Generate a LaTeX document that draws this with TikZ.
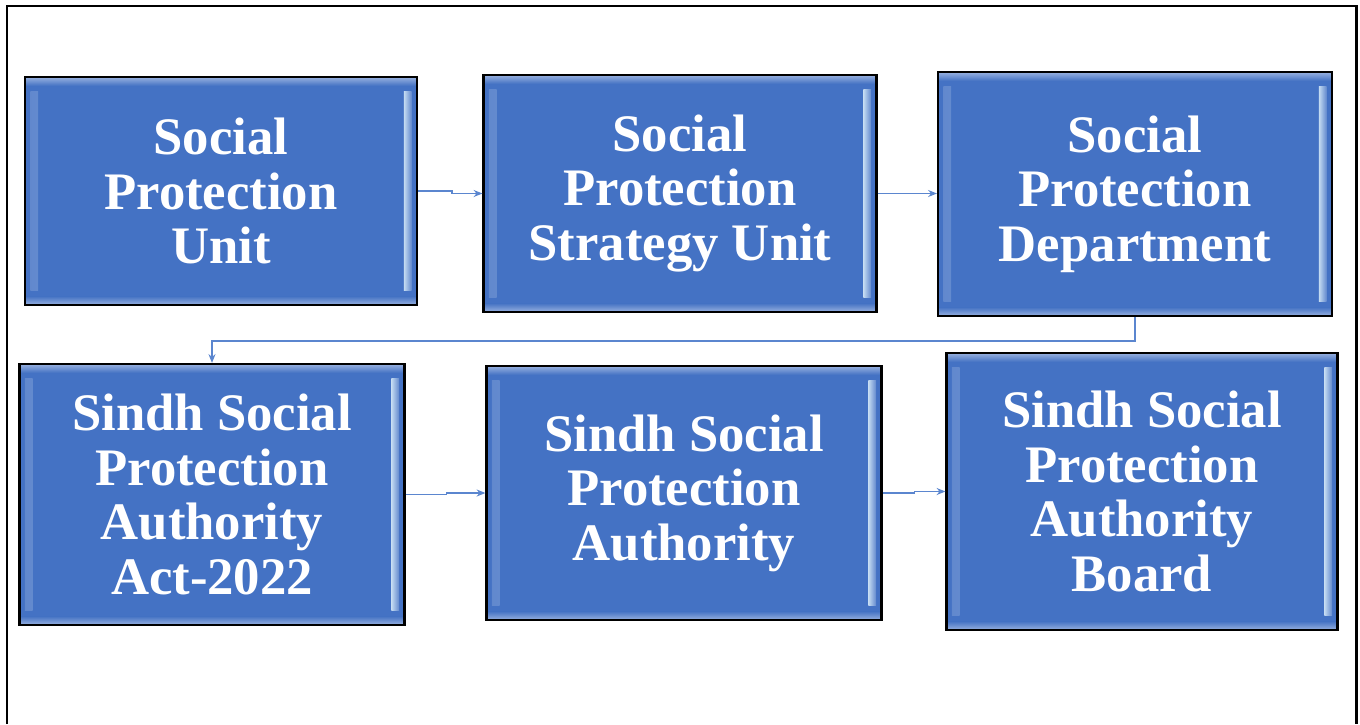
\documentclass[tikz,border=0pt]{standalone}
\usepackage{fontspec}
\setmainfont{Liberation Serif}
\usetikzlibrary{arrows.meta}

\definecolor{boxblue}{HTML}{4472C4}
\definecolor{bevel}{HTML}{C5DCF2}
\definecolor{flowblue}{HTML}{5B86CF}

\tikzset{
    stage/.style = {draw = black, line width = 1.3pt, fill = boxblue, text = white,
        align = center, inner sep = 0pt,
        font = \bfseries\fontsize{30}{31}\selectfont,
        path picture = {
            \shade[left color = boxblue!85!white, right color = bevel]
                ([xshift = 3pt, yshift = -8pt]path picture bounding box.north west)
                rectangle ([xshift = 7.5pt, yshift = 8pt]path picture bounding box.south west);
            \shade[left color = bevel, right color = boxblue!85!white]
                ([xshift = -7.5pt, yshift = -8pt]path picture bounding box.north east)
                rectangle ([xshift = -3pt, yshift = 8pt]path picture bounding box.south east);
            \shade[top color = boxblue!55!white, bottom color = boxblue]
                (path picture bounding box.north west)
                rectangle ([yshift = -5pt]path picture bounding box.north east);
            \shade[top color = boxblue, bottom color = boxblue!55!white]
                ([yshift = 5pt]path picture bounding box.south west)
                rectangle (path picture bounding box.south east);
        }},
    flow/.style = {draw = flowblue, line width = 0.8pt,
        -{Stealth[length = 5pt, width = 4pt, fill = boxblue]}},
}

\begin{document}
\begin{tikzpicture}[x = 0.02cm, y = -0.02cm]

    \useasboundingbox (0, 0) rectangle (1360, 724);

    % frame, open at the bottom
    \draw[line width = 1.7pt] (7, 724) -- (7, 6) -- (1356, 6) -- (1356, 724);

    % first row
    \node[stage, minimum width = 7.84cm, minimum height = 4.56cm] (unit) at (221, 191)
        {Social\\Protection\\Unit};
    \node[stage, minimum width = 7.86cm, minimum height = 4.74cm] (strategy) at (680, 193.5)
        {Social\\Protection\\Strategy Unit};
    \node[stage, minimum width = 7.88cm, minimum height = 4.88cm] (department) at (1135, 194)
        {Social\\Protection\\Department};

    % second row
    \node[stage, minimum width = 7.70cm, minimum height = 5.22cm] (act) at (212, 494.5)
        {Sindh Social\\Protection\\Authority\\Act-2022};
    \node[stage, minimum width = 7.90cm, minimum height = 5.08cm] (authority) at (684, 493)
        {Sindh Social\\Protection\\Authority};
    \node[stage, minimum width = 7.82cm, minimum height = 5.54cm] (board) at (1142, 491.5)
        {Sindh Social\\Protection\\Authority\\Board};

    % connectors
    \draw[flow] (unit.east) -- ++(34, 0) |- (strategy.west);
    \draw[flow] (strategy.east) -- (strategy.east -| department.west);
    \draw[flow] (department.south) -- ++(0, 24) -| (act.north);
    \draw[flow] (act.east) -- ++(41, 0) |- (authority.west);
    \draw[flow] (authority.east) -- ++(32, 0) |- (board.west);

\end{tikzpicture}
\end{document}
